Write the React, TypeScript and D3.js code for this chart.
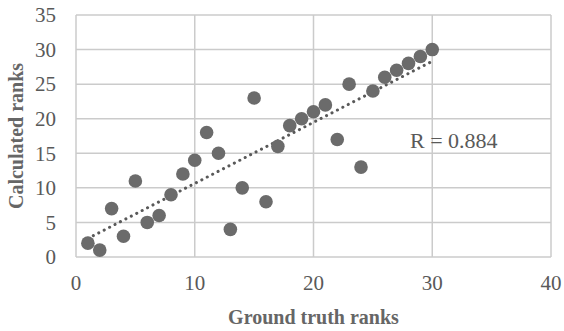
import * as d3 from "d3";

const groundTruth = [
	1, 2, 3, 4, 5, 6, 7, 8, 9, 10, 11, 12, 13, 14, 15, 16, 17, 18, 19, 20, 21, 22, 23, 24, 25, 26, 27, 28, 29, 30,
];
const calculated = [
	2, 1, 7, 3, 11, 5, 6, 9, 12, 14, 18, 15, 4, 10, 23, 8, 16, 19, 20, 21, 22, 17, 25, 13, 24, 26, 27, 28, 29, 30,
];
const xTicks = [0, 10, 20, 30, 40];
const yTicks = [0, 5, 10, 15, 20, 25, 30, 35];
const rLabel = "R = 0.884";

const W = 564;
const H = 331;
const margin = { top: 15, right: 13, bottom: 74, left: 76 };
const SERIF = "'Liberation Serif', 'Times New Roman', serif";

export default function App() {
	const innerW = W - margin.left - margin.right;
	const innerH = H - margin.top - margin.bottom;

	const x = d3.scaleLinear().domain([0, 40]).range([margin.left, margin.left + innerW]);
	const y = d3.scaleLinear().domain([0, 35]).range([margin.top + innerH, margin.top]);

	const points = groundTruth.map((g, i) => ({ gx: g, cy: calculated[i] }));

	// linear least-squares trend line
	const mx = d3.mean(groundTruth)!;
	const my = d3.mean(calculated)!;
	const sxy = d3.sum(points, (p) => (p.gx - mx) * (p.cy - my));
	const sxx = d3.sum(points, (p) => (p.gx - mx) ** 2);
	const slope = sxy / sxx;
	const icpt = my - slope * mx;
	const [x0, x1] = d3.extent(groundTruth) as [number, number];

	return (
		<svg
			width={W}
			height={H}
			style={{ position: "absolute", left: 0, top: 0, background: "#fff" }}
			fontFamily={SERIF}
		>
			{/* grid */}
			{yTicks.map((t) => (
				<line key={"gy" + t} x1={x(0)} x2={x(40)} y1={y(t)} y2={y(t)} stroke="#cbcbcb" strokeWidth={1.5} />
			))}
			{xTicks.map((t) => (
				<line key={"gx" + t} x1={x(t)} x2={x(t)} y1={y(0)} y2={y(35)} stroke="#cbcbcb" strokeWidth={1.5} />
			))}

			{/* tick labels */}
			{yTicks.map((t) => (
				<text key={"ty" + t} x={56} y={y(t)} dy="0.35em" textAnchor="end" fontSize={21} fill="#595959">
					{t}
				</text>
			))}
			{xTicks.map((t) => (
				<text key={"tx" + t} x={x(t)} y={290} textAnchor="middle" fontSize={21} fill="#595959">
					{t}
				</text>
			))}

			{/* trend line */}
			<line
				x1={x(x0)}
				y1={y(icpt + slope * x0)}
				x2={x(x1)}
				y2={y(icpt + slope * x1)}
				stroke="#595959"
				strokeWidth={3}
				strokeLinecap="round"
				strokeDasharray="0.1,6"
			/>

			{/* points */}
			{points.map((p, i) => (
				<circle key={i} cx={x(p.gx)} cy={y(p.cy)} r={6.8} fill="#6b6b6b" />
			))}

			<text x={410} y={140} dy="0.35em" fontSize={22} fill="#595959">
				{rLabel}
			</text>

			{/* axis titles */}
			<text
				x={margin.left + innerW / 2}
				y={324}
				textAnchor="middle"
				fontSize={20}
				fontWeight="bold"
				fill="#666"
			>
				Ground truth ranks
			</text>
			<text
				transform={`translate(23,${margin.top + innerH / 2}) rotate(-90)`}
				textAnchor="middle"
				fontSize={20}
				fontWeight="bold"
				fill="#666"
			>
				Calculated ranks
			</text>
		</svg>
	);
}
